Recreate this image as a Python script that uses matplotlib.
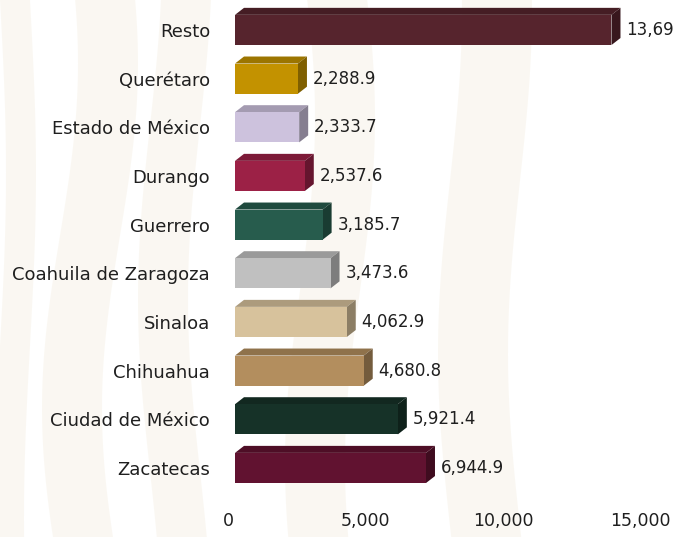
import matplotlib
matplotlib.use('Agg')
import matplotlib.pyplot as plt
from matplotlib.patches import Polygon
from matplotlib.transforms import ScaledTranslation
import matplotlib.colors as mcolors
import numpy as np

# data, bottom to top
states = ['Zacatecas', 'Ciudad de México', 'Chihuahua', 'Sinaloa', 'Coahuila de Zaragoza',
          'Guerrero', 'Durango', 'Estado de México', 'Querétaro', 'Resto']
values = [6944.9, 5921.4, 4680.8, 4062.9, 3473.6, 3185.7, 2537.6, 2333.7, 2288.9, 13690.0]
value_labels = ['6,944.9', '5,921.4', '4,680.8', '4,062.9', '3,473.6', '3,185.7',
                '2,537.6', '2,333.7', '2,288.9', '13,69']
bar_colors = ['#611230', '#163228', '#b38e5e', '#d7c29c', '#c0c0c0',
              '#275c4d', '#9c2146', '#cdc2dd', '#c39200', '#56242d']
x_ticks = [0, 5000, 10000, 15000]
x_tick_labels = ['0', '5,000', '10,000', '15,000']

W, H = 673, 537
fig = plt.figure(figsize=(W / 100, H / 100), dpi=100)
fig.patch.set_facecolor('white')

# very faint cream ornament in the background, mostly on the left
bg = fig.add_axes([0, 0, 1, 1])
bg.set_xlim(0, W)
bg.set_ylim(H, 0)
bg.axis('off')
yy = np.linspace(0, H, 60)
bands = [(0, 30, 6, 0.0), (60, 120, 18, 1.0), (150, 200, 12, 2.0), (300, 360, 15, 0.5), (450, 520, 12, 1.5)]
for x0, x1, wob, ph in bands:
    shift = wob * np.sin(yy / 110.0 + ph)
    bg.fill_betweenx(yy, x0 + shift, x1 + shift, color='#f7f2e8', alpha=0.55, lw=0)

ax_left, ax_right = 235, 647.5
ax_top, ax_bottom = 5.6, 492.3
ax = fig.add_axes([ax_left / W, 1 - ax_bottom / H, (ax_right - ax_left) / W, (ax_bottom - ax_top) / H])
ax.set_xlim(0, 15000)
ax.set_ylim(-0.5, len(states) - 0.5)
ax.patch.set_alpha(0)
for s in ax.spines.values():
    s.set_visible(False)

# 3D depth in pixels -> data units
depth_x_px, depth_y_px = 9, 7
dx = depth_x_px * 15000 / (ax_right - ax_left)
dy = depth_y_px * len(states) / (ax_bottom - ax_top)
h = 0.62

def shade(c, f):
    r, g, b = mcolors.to_rgb(c)
    return (r * f, g * f, b * f)

for i, (v, c) in enumerate(zip(values, bar_colors)):
    y0, y1 = i - h / 2, i + h / 2
    # top face
    ax.add_patch(Polygon([(0, y1), (v, y1), (v + dx, y1 + dy), (dx, y1 + dy)],
                         closed=True, facecolor=shade(c, 0.8), edgecolor='none'))
    # side face
    ax.add_patch(Polygon([(v, y0), (v + dx, y0 + dy), (v + dx, y1 + dy), (v, y1)],
                         closed=True, facecolor=shade(c, 0.65), edgecolor='none'))
ax.barh(range(len(states)), values, height=h, color=bar_colors, edgecolor='none')

for i, (v, lab) in enumerate(zip(values, value_labels)):
    ax.text(v + dx, i, lab, transform=ax.transData + ScaledTranslation(6 / 100, 0, fig.dpi_scale_trans),
            ha='left', va='center', fontsize=12, color='#1f1f1f')

ax.set_yticks(range(len(states)))
ax.set_yticklabels(states, fontsize=13, color='#1f1f1f')
ax.set_xticks(x_ticks)
ax.set_xticklabels(x_tick_labels, fontsize=12.5, color='#1f1f1f')
ax.tick_params(axis='y', length=0, pad=18)
ax.tick_params(axis='x', length=0, pad=14)
for t in ax.get_xticklabels():
    t.set_transform(t.get_transform() + ScaledTranslation(-7 / 100, 0, fig.dpi_scale_trans))

fig.savefig('out.png', dpi=100)
